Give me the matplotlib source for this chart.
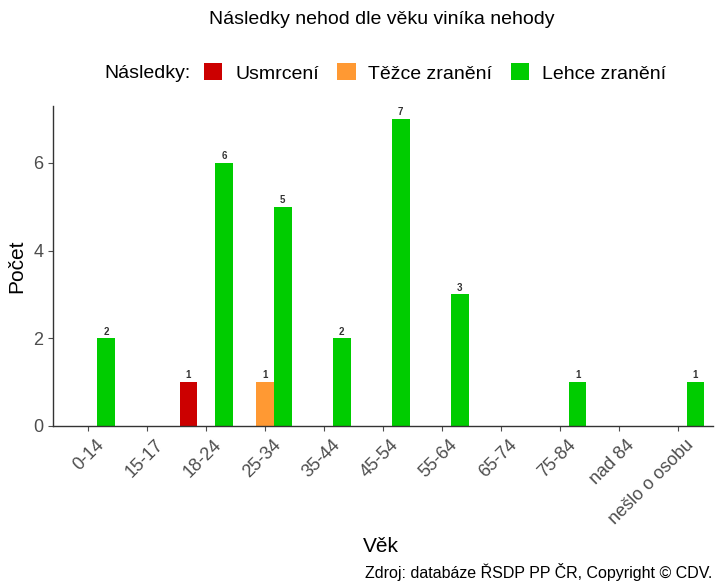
"""
plot.py - Následky nehod dle věku viníka nehody
"""
import numpy as np
import matplotlib.pyplot as plt
from matplotlib.patches import Patch
from matplotlib.transforms import ScaledTranslation

plt.rcParams['font.family'] = ['Liberation Sans', 'DejaVu Sans']

# Data
kategorie = ['0-14', '15-17', '18-24', '25-34', '35-44', '45-54',
             '55-64', '65-74', '75-84', 'nad 84', 'nešlo o osobu']
usmrceni = [0, 0, 1, 0, 0, 0, 0, 0, 0, 0, 0]
tezce = [0, 0, 0, 1, 0, 0, 0, 0, 0, 0, 0]
lehce = [2, 0, 6, 5, 2, 7, 3, 0, 1, 0, 1]

serie = [('Usmrcení', usmrceni, '#CC0000'),
         ('Těžce zranění', tezce, '#FF9933'),
         ('Lehce zranění', lehce, '#00CC00')]

fig = plt.figure(figsize=(7.16, 5.83), dpi=100)
ax = fig.add_axes([0.074, 0.2693, 0.922, 0.549])

x = np.arange(len(kategorie))
sirka = 0.3
for i, (nazev, hodnoty, barva) in enumerate(serie):
    hodnoty = np.array(hodnoty)
    m = hodnoty > 0
    pos = x[m] + (i - 1) * sirka
    ax.bar(pos, hodnoty[m], width=sirka, color=barva, edgecolor='none')
    for px, v in zip(pos, hodnoty[m]):
        ax.text(px, v + 0.04, str(v), ha='center', va='bottom',
                fontsize=7, color='#333333', fontweight='bold')

ax.set_xlim(-0.6, len(kategorie) - 0.4)
ax.set_ylim(0, 7.3)
ax.set_yticks([0, 2, 4, 6])
ax.set_xticks(x)
ax.set_xticklabels(kategorie, rotation=45, ha='right', rotation_mode='anchor')
ax.tick_params(axis='both', colors='#4D4D4D', labelsize=13, length=3.5, width=0.8)
ax.tick_params(axis='x', pad=4)
posun = ScaledTranslation(7 / 100, 0, fig.dpi_scale_trans)
for lbl in ax.get_xticklabels():
    lbl.set_transform(lbl.get_transform() + posun)
for s in ['top', 'right']:
    ax.spines[s].set_visible(False)
for s in ['left', 'bottom']:
    ax.spines[s].set_color('#333333')
    ax.spines[s].set_linewidth(1.0)

ax.set_ylabel('Počet', fontsize=15, labelpad=5)
fig.text(381 / 716, 1 - 547 / 583, 'Věk', ha='center', va='center', fontsize=15)
fig.text(712 / 716, 1 - 572 / 583, 'Zdroj: databáze ŘSDP PP ČR, Copyright © CDV.',
         ha='right', va='center', fontsize=11.5)

fig.text(382 / 716, 1 - 20 / 583, 'Následky nehod dle věku viníka nehody',
         ha='center', va='center', fontsize=14)

# Legenda
fig.text(191 / 716, 1 - 73 / 583, 'Následky:', ha='right', va='center', fontsize=14)
handles = [Patch(facecolor=b, edgecolor='none', label=n) for n, _, b in serie]
fig.legend(handles=handles, loc='center left', bbox_to_anchor=(204 / 716, 1 - 73 / 583),
           ncol=3, frameon=False, fontsize=14, handlelength=0.95, handleheight=0.95,
           handletextpad=0.65, columnspacing=0.95, borderpad=0, borderaxespad=0)

plt.savefig('out.png', dpi=100)
